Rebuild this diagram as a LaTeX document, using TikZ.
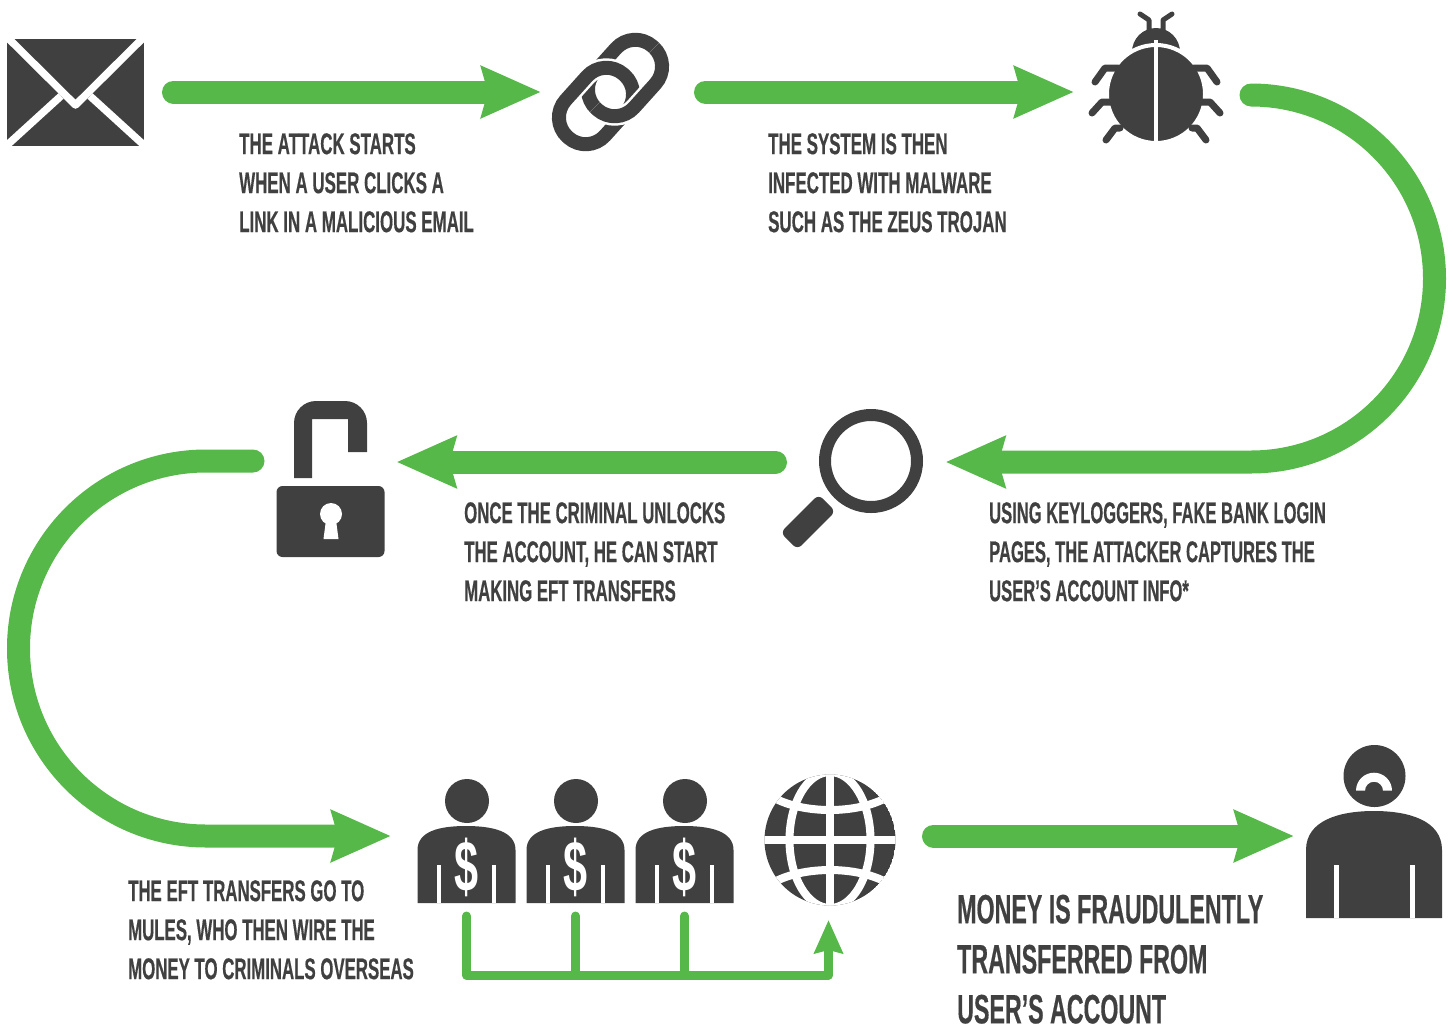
\documentclass[tikz,border=0pt]{standalone}
\usepackage{fontspec}
\setmainfont[FakeStretch=0.572,FakeBold=0.4]{Liberation Sans Bold}
\newfontfamily\dollarfont[FakeStretch=0.6]{Liberation Sans Bold}
\usetikzlibrary{arrows.meta}
\definecolor{ag}{RGB}{85,184,72}
\definecolor{ink}{RGB}{64,64,64}
\tikzset{
  bigarrow/.style={draw=ag,line width=23pt,line cap=round,-{Stealth[length=59pt,width=50pt,inset=6pt,fill=ag]}},
  thinarrow/.style={draw=ag,line width=9pt,line cap=round,line join=round},
  caption/.style={anchor=north west,inner sep=0pt,text=ink,align=left,transform shape,font=\fontsize{30}{39}\selectfont},
  bigcaption/.style={anchor=north west,inner sep=0pt,text=ink,align=left,transform shape,font=\fontsize{41}{50}\selectfont},
  icon/.style={fill=ink,draw=none},
  cut/.style={fill=white,draw=none},
  cutline/.style={draw=white,line width=#1},
  leg/.style={draw=ink,line width=7pt,line cap=round,line join=round},
  antenna/.style={draw=ink,line width=5pt,line cap=round,line join=round},
  dollar/.style={text=white,inner sep=0pt,font=\dollarfont\fontsize{72}{72}\selectfont}
}
\begin{document}
\begin{tikzpicture}[x=1pt,y=-1pt]
\useasboundingbox (0,0) rectangle (1453,1026);
% envelope
\fill[icon] (7,39) rectangle (144,146);
\draw[cutline=7.5pt,line join=round] (6,36) -- (75.5,105) -- (145,36);
\draw[cutline=7.5pt] (61,96) -- (5,147);
\draw[cutline=7.5pt] (90,96) -- (146,147);
% chain
\newcommand\upperlink{(625-42,78-26.5) rectangle (625+42,78+26.5)}
\newcommand\lowerlink{(596-42,106-26.5) rectangle (596+42,106+26.5)}
\begin{scope}[rotate around={48:(625,78)}]
 \draw[draw=ink,line width=14pt,rounded corners=26pt] \upperlink;
\end{scope}
\begin{scope}[rotate around={48:(596,106)}]
 \draw[draw=white,line width=19pt,rounded corners=26pt] \lowerlink;
 \draw[draw=ink,line width=14pt,rounded corners=26pt] \lowerlink;
\end{scope}
\begin{scope}
 \clip (500,202) -- (720,-18) -- (720,202) -- cycle;
 \begin{scope}[rotate around={48:(625,78)}]
 \draw[draw=white,line width=19pt,rounded corners=26pt] \upperlink;
 \draw[draw=ink,line width=14pt,rounded corners=26pt] \upperlink;
 \end{scope}
\end{scope}
% bug
\draw[antenna] (1140,14) -- (1149,20) -- (1149,32);
\draw[antenna] (1172,14) -- (1163,20) -- (1163,32);
\begin{scope}
 \clip (1120,20) rectangle (1192,50);
 \fill[icon] (1156,52) circle (24);
\end{scope}
\fill[draw=white,line width=4pt,fill=ink] (1156,94) circle (49);
\draw[leg] (1118,68) -- (1105,68) -- (1095,82);
\draw[leg] (1113,102) -- (1102,102) -- (1092,113);
\draw[leg] (1120,128) -- (1115,128) -- (1106,140);
\draw[leg] (1194,68) -- (1207,68) -- (1217,82);
\draw[leg] (1199,102) -- (1210,102) -- (1220,113);
\draw[leg] (1192,128) -- (1197,128) -- (1206,140);
\fill[cut] (1154,40) rectangle (1158,146);
% magnifier
\draw[draw=ink,line width=12pt] (871,461) circle (46);
\fill[icon,rotate around={45:(808,522)},rounded corners=6pt] (808-27,522-12) rectangle (808+27,522+12);
% lock
\fill[icon,rounded corners=6pt] (276.5,486) rectangle (384.5,557);
\fill[cut] (331,514) circle (11);
\fill[cut] (326,520) -- (336,520) -- (338.5,539) -- (323.5,539) -- cycle;
\fill[icon] (294,478) -- (294,423) arc (180:270:22) -- (345,401) arc (270:360:22) -- (367,452) -- (348,452) -- (348,419) -- (312,419) -- (312,478) -- cycle;
% mules
\foreach \d/\n in {0/1,109/2,218/3}{
 \begin{scope}[shift={(\d,0)}]
  \fill[icon] (467,801) circle (22);
  \fill[icon] (417.5,903) -- (417.5,850) .. controls (417.5,831) and (440,826) .. (466,826) .. controls (492,826) and (515.5,831) .. (515.5,850) -- (515.5,903) -- cycle;
  \fill[cut] (437,865) rectangle (441,903);
  \fill[cut] (492,865) rectangle (496,903);
  \node[dollar] (d\n) at (466.5,867) {\$};
 \end{scope}
}
% globe
\begin{scope}
 \clip (830,840) circle (65.5);
 \fill[icon] (830,840) circle (65.5);
 \draw[cutline=8pt] (830,770) -- (830,910);
 \draw[cutline=8pt] (760,840) -- (900,840);
 \draw[cutline=8pt] (830,840) ellipse (40.5 and 68);
 \draw[cutline=8pt] (765,792) .. controls (795,816) and (865,816) .. (895,792);
 \draw[cutline=8pt] (765,888) .. controls (795,864) and (865,864) .. (895,888);
\end{scope}
% victim
\fill[icon] (1374.5,776) circle (31);
\fill[cut] (1356,790.7) arc (180:360:18) -- (1383,790.7) arc (360:180:9) -- cycle;
\fill[icon] (1306,918) -- (1306,850) .. controls (1306,820) and (1340,811) .. (1374,811) .. controls (1408,811) and (1442,820) .. (1442,850) -- (1442,918) -- cycle;
\fill[cut] (1334,865) rectangle (1339,918);
\fill[cut] (1410,865) rectangle (1414.5,918);
% connector end points
\coordinate (a1s) at (173.5,92);  \coordinate (a1e) at (541,92);
\coordinate (a2s) at (705.5,92);  \coordinate (a2e) at (1074,92);
\coordinate (a3s) at (1251,95);   \coordinate (a3e) at (945.5,462);
\coordinate (a4s) at (775.5,462); \coordinate (a4e) at (396.5,462);
\coordinate (a5s) at (253,461);   \coordinate (a5e) at (391,836);
\coordinate (a6s) at (933.5,836); \coordinate (a6e) at (1294,836);
\coordinate (b1) at (466.5,916);  \coordinate (b2) at (575.5,916);
\coordinate (b3) at (684.5,916);  \coordinate (b4) at (828.5,920);
\coordinate (bl) at (466.5,975);  \coordinate (br) at (828.5,975);
\draw[bigarrow] (a1s) -- (a1e);
\draw[bigarrow] (a2s) -- (a2e);
\draw[bigarrow] (a3s) arc (-90:90:183.5) -- (a3e);
\draw[bigarrow] (a4s) -- (a4e);
\draw[bigarrow] (a5s) -- (206,461) arc (-90:-270:187.5) -- (a5e);
\draw[bigarrow] (a6s) -- (a6e);
\draw[thinarrow] (b2) -- (575.5,975);
\draw[thinarrow] (b3) -- (684.5,975);
\draw[thinarrow,-{Stealth[length=33pt,width=28pt,inset=3pt,fill=ag]}] (b1) -- (bl) -- (br) -- (b4);
% captions
\node[caption,xscale=0.985] (t1) at (239,133) {THE ATTACK STARTS\\WHEN A USER CLICKS A\\LINK IN A MALICIOUS EMAIL};
\node[caption,xscale=0.985] (t2) at (768,133) {THE SYSTEM IS THEN\\INFECTED WITH MALWARE\\SUCH AS THE ZEUS TROJAN};
\node[caption,xscale=0.965] (t3) at (989,502) {USING KEYLOGGERS, FAKE BANK LOGIN\\PAGES, THE ATTACKER CAPTURES THE\\USER’S ACCOUNT INFO*};
\node[caption,xscale=0.978] (t4) at (464,502) {ONCE THE CRIMINAL UNLOCKS\\THE ACCOUNT, HE CAN START\\MAKING EFT TRANSFERS};
\node[caption,xscale=0.98] (t5) at (128,880) {THE EFT TRANSFERS GO TO\\MULES, WHO THEN WIRE THE\\MONEY TO CRIMINALS OVERSEAS};
\node[bigcaption,xscale=0.99] (t6) at (957,894.5) {MONEY IS FRAUDULENTLY\\TRANSFERRED FROM\\USER’S ACCOUNT};
\end{tikzpicture}
\end{document}
